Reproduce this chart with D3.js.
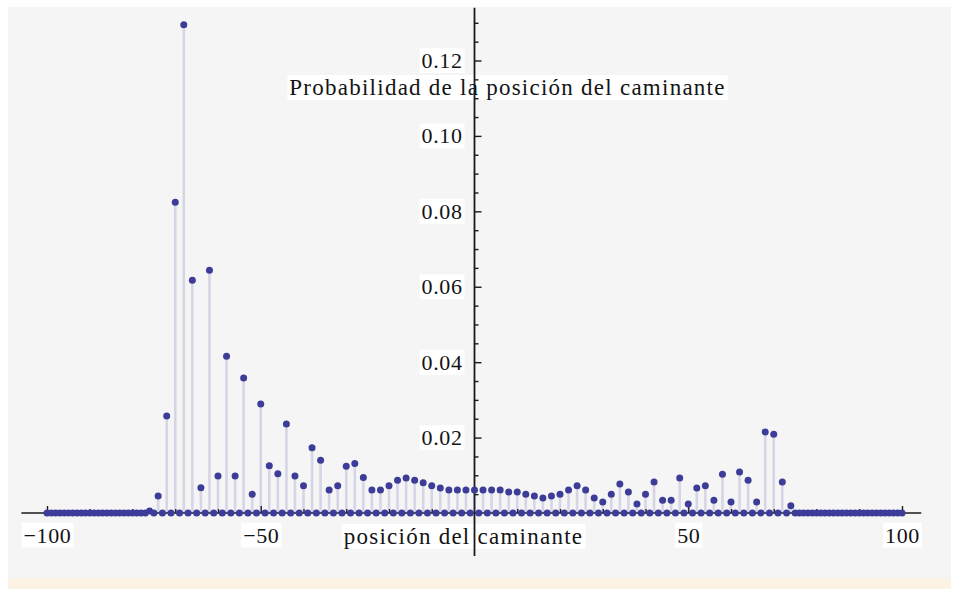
<!DOCTYPE html>
<html>
<head>
<meta charset="utf-8">
<script src="https://cdn.jsdelivr.net/npm/d3@7"></script>
<style>
  html, body { margin: 0; padding: 0; background: #ffffff; }
  svg { display: block; }
  text { font-family: "Liberation Serif", "Times New Roman", serif; fill: #141414; }
</style>
</head>
<body>
<svg id="chart" width="956" height="589"></svg>
<script>
// Probabilidad del caminante cuántico tras 100 pasos, posiciones pares -100..100
const posicionesPares = [
  -100, -98, -96, -94, -92, -90, -88, -86, -84, -82, -80, -78,
  -76, -74, -72, -70, -68, -66, -64, -62, -60, -58, -56, -54, -52, -50,
  -48, -46, -44, -42, -40, -38, -36, -34, -32, -30, -28, -26, -24, -22,
  -20, -18, -16, -14, -12, -10, -8, -6, -4, -2,
  0, 2, 4, 6, 8, 10, 12, 14, 16, 18, 20, 22, 24, 26, 28, 30,
  32, 34, 36, 38, 40, 42, 44, 46, 48, 50, 52, 54, 56, 58, 60,
  62, 64, 66, 68, 70, 72, 74,
  76, 78, 80, 82, 84, 86, 88, 90, 92, 94, 96, 98, 100
];
const probPares = [
  0, 0, 0, 0, 0, 0, 0, 0, 0, 0, 0, 0,
  0.0005, 0.0045, 0.0257, 0.0824, 0.1295, 0.0617, 0.0067, 0.0644, 0.0098, 0.0416, 0.0098, 0.0358, 0.0050, 0.0289,
  0.0125, 0.0104, 0.0236, 0.0098, 0.0072, 0.0173, 0.0140, 0.0061, 0.0072, 0.0124, 0.0131, 0.0094, 0.0061, 0.0061,
  0.0072, 0.0087, 0.0093, 0.0087, 0.0080, 0.0072, 0.0066, 0.0061, 0.0061, 0.0061,
  0.0061, 0.0061, 0.0061, 0.0061, 0.0056, 0.0056, 0.0050, 0.0045, 0.0040, 0.0045, 0.0050, 0.0061, 0.0072, 0.0061, 0.0040, 0.0029,
  0.0050, 0.0077, 0.0056, 0.0024, 0.0050, 0.0082, 0.0034, 0.0034, 0.0093, 0.0024, 0.0066, 0.0072, 0.0034, 0.0103, 0.0029,
  0.0109, 0.0087, 0.0029, 0.0215, 0.0209, 0.0082, 0.0019,
  0, 0, 0, 0, 0, 0, 0, 0, 0, 0, 0, 0, 0
];
// Las posiciones impares tienen probabilidad nula
const posicionesImpares = [
  -99, -97, -95, -93, -91, -89, -87, -85, -83, -81, -79, -77, -75, -73, -71, -69, -67, -65, -63, -61,
  -59, -57, -55, -53, -51, -49, -47, -45, -43, -41, -39, -37, -35, -33, -31, -29, -27, -25, -23, -21,
  -19, -17, -15, -13, -11, -9, -7, -5, -3, -1, 1, 3, 5, 7, 9, 11, 13, 15, 17, 19,
  21, 23, 25, 27, 29, 31, 33, 35, 37, 39, 41, 43, 45, 47, 49, 51, 53, 55, 57, 59,
  61, 63, 65, 67, 69, 71, 73, 75, 77, 79, 81, 83, 85, 87, 89, 91, 93, 95, 97, 99
];
const probImpares = [
  0, 0, 0, 0, 0, 0, 0, 0, 0, 0, 0, 0, 0, 0, 0, 0, 0, 0, 0, 0,
  0, 0, 0, 0, 0, 0, 0, 0, 0, 0, 0, 0, 0, 0, 0, 0, 0, 0, 0, 0,
  0, 0, 0, 0, 0, 0, 0, 0, 0, 0, 0, 0, 0, 0, 0, 0, 0, 0, 0, 0,
  0, 0, 0, 0, 0, 0, 0, 0, 0, 0, 0, 0, 0, 0, 0, 0, 0, 0, 0, 0,
  0, 0, 0, 0, 0, 0, 0, 0, 0, 0, 0, 0, 0, 0, 0, 0, 0, 0, 0, 0
];

const xTicksMayores = [-100, -50, 50, 100];
const xTicksMenores = [-90, -80, -70, -60, -40, -30, -20, -10, 10, 20, 30, 40, 60, 70, 80, 90];
const yTicksMayores = [0.02, 0.04, 0.06, 0.08, 0.10, 0.12];
const yTicksMenores = [0.005, 0.01, 0.015, 0.025, 0.03, 0.035, 0.045, 0.05, 0.055, 0.065, 0.07, 0.075,
                       0.085, 0.09, 0.095, 0.105, 0.11, 0.115, 0.125, 0.13];

const tituloY = "Probabilidad de la posición del caminante";
const tituloX = "posición del caminante";

const puntos = posicionesPares.map((p, i) => ({ x: p, y: probPares[i] }))
  .concat(posicionesImpares.map((p, i) => ({ x: p, y: probImpares[i] })));

const svg = d3.select("#chart");
const W = 956, H = 589;

const x = d3.scaleLinear().domain([-100, 100]).range([47, 902]);
const y = d3.scaleLinear().domain([0, 0.12]).range([513, 60.5]);
const xMin = -106, xMax = 104.5;
const yMin = -0.0114, yMax = 0.134;

// Fondo
svg.append("rect").attr("x", 0).attr("y", 0).attr("width", W).attr("height", H).attr("fill", "#ffffff");
svg.append("rect").attr("x", 8).attr("y", 7).attr("width", 943).attr("height", 571).attr("fill", "#f5f5f5");
svg.append("rect").attr("x", 8).attr("y", 578).attr("width", 943).attr("height", 11).attr("fill", "#fdf3e5");

// Etiqueta con caja blanca detrás
function etiqueta(g, txt, cx, base, size, ls) {
  const t = g.append("text")
    .attr("x", cx).attr("y", base)
    .attr("text-anchor", "middle")
    .style("font-size", size + "px")
    .style("letter-spacing", ls + "px")
    .text(txt);
  const b = t.node().getBBox();
  g.insert("rect", "text")
    .attr("x", b.x - 2).attr("y", b.y).attr("width", b.width + 4).attr("height", b.height)
    .attr("fill", "#ffffff");
}
const gTitulos = svg.append("g");
etiqueta(gTitulos.append("g"), tituloY, 507.5, 95, 23, 1.25);
etiqueta(gTitulos.append("g"), tituloX, 463.5, 544, 23, 1.25);

// Ejes
const ejeColor = "#1a1a1a";
const gx = svg.append("g").attr("transform", `translate(0,${y(0)})`);
gx.append("g").call(d3.axisBottom(x).tickValues(xTicksMayores).tickSizeInner(-7).tickSizeOuter(0).tickPadding(14))
  .call(g => g.select(".domain").remove());
gx.append("g").call(d3.axisBottom(x).tickValues(xTicksMenores).tickSizeInner(-4).tickSizeOuter(0).tickFormat(""))
  .call(g => g.select(".domain").remove());
gx.append("line").attr("x1", x(xMin)).attr("x2", x(xMax)).attr("y1", 0).attr("y2", 0)
  .attr("stroke", ejeColor).attr("stroke-width", 1.6);

const gy = svg.append("g").attr("transform", `translate(${x(0)},0)`);
gy.append("g").call(d3.axisLeft(y).tickValues(yTicksMayores).tickSizeInner(-7).tickSizeOuter(0).tickPadding(12)
    .tickFormat(d3.format(".2f")))
  .call(g => g.select(".domain").remove());
gy.append("g").call(d3.axisLeft(y).tickValues(yTicksMenores).tickSizeInner(-4).tickSizeOuter(0).tickFormat(""))
  .call(g => g.select(".domain").remove());
gy.append("line").attr("x1", 0).attr("x2", 0).attr("y1", y(yMax)).attr("y2", y(yMin))
  .attr("stroke", ejeColor).attr("stroke-width", 1.8);

svg.selectAll(".tick line").attr("stroke", ejeColor).attr("stroke-width", 1.4);
svg.selectAll(".tick text")
  .attr("fill", "#141414")
  .style("font-family", '"Liberation Serif", "Times New Roman", serif')
  .style("font-size", "22px")
  .style("letter-spacing", "0.6px");
// Caja blanca detrás de cada número
svg.selectAll(".tick").each(function () {
  const t = d3.select(this).select("text");
  if (!t.node() || !t.text()) return;
  const b = t.node().getBBox();
  d3.select(this).insert("rect", "text")
    .attr("x", b.x - 2).attr("y", b.y).attr("width", b.width + 4).attr("height", b.height)
    .attr("fill", "#ffffff");
});

// Relleno hasta el eje y puntos
const color = "#3d3d99";
svg.append("g").selectAll("line").data(puntos).join("line")
  .attr("x1", d => x(d.x)).attr("x2", d => x(d.x))
  .attr("y1", y(0)).attr("y2", d => y(d.y))
  .attr("stroke", color).attr("stroke-opacity", 0.17).attr("stroke-width", 2.6);
svg.append("g").selectAll("circle").data(puntos).join("circle")
  .attr("cx", d => x(d.x)).attr("cy", d => y(d.y)).attr("r", 3.5)
  .attr("fill", color);
</script>
</body>
</html>
